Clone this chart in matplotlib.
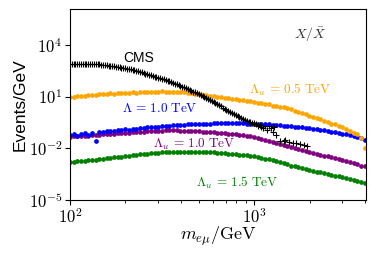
import matplotlib
matplotlib.use("Agg")
import matplotlib.pyplot as plt
from matplotlib.ticker import NullLocator, FuncFormatter
import math

plt.rcParams['mathtext.fontset'] = 'cm'
plt.rcParams['font.family'] = ['Liberation Sans', 'DejaVu Sans']

# bin centres (GeV), log-spaced
mass_bins = [100, 102.3, 104.7, 107.2, 109.6, 112.2, 114.8, 117.5, 120.2, 123.0,
             125.9, 128.8, 131.8, 134.9, 138.0, 141.3, 144.5, 147.9, 151.4, 154.9,
             158.5, 162.2, 166.0, 169.8, 173.8, 177.8, 182.0, 186.2, 190.5, 195.0,
             199.5, 204.2, 208.9, 213.8, 218.8, 223.9, 229.1, 234.4, 239.9, 245.5,
             251.2, 257.0, 263.0, 269.2, 275.4, 281.8, 288.4, 295.1, 302.0, 309.0,
             316.2, 323.6, 331.1, 338.8, 346.7, 354.8, 363.1, 371.5, 380.2, 389.0,
             398.1, 407.4, 416.9, 426.6, 436.5, 446.7, 457.1, 467.7, 478.6, 489.8,
             501.2, 512.9, 524.8, 537.0, 549.5, 562.3, 575.4, 588.8, 602.6, 616.6,
             631.0, 645.7, 660.7, 676.1, 691.8, 707.9, 724.4, 741.3, 758.6, 776.2,
             794.3, 812.8, 831.8, 851.1, 871.0, 891.3, 912.0, 933.3, 955.0, 977.2,
             1000, 1023, 1047, 1072, 1096, 1122, 1148, 1175, 1202, 1230,
             1259, 1288, 1318, 1349, 1380, 1413, 1445, 1479, 1514, 1549,
             1585, 1622, 1660, 1698, 1738, 1778, 1820, 1862, 1905, 1950,
             1995, 2042, 2089, 2138, 2188, 2239, 2291, 2344, 2399, 2455,
             2512, 2570, 2630, 2692, 2754, 2818, 2884, 2951, 3020, 3090,
             3162, 3236, 3311, 3388, 3467, 3548, 3631, 3715, 3802, 3890,
             3981]

# log10(Events/GeV) for the model curves (every second bin)
orange_log = [0.96, 0.98, 1.02, 1.03, 1.04, 1.08, 1.09, 1.10, 1.13, 1.15,
              1.15, 1.18, 1.17, 1.20, 1.19, 1.22, 1.21, 1.24, 1.23, 1.26,
              1.25, 1.28, 1.27, 1.29, 1.28, 1.30, 1.28, 1.29, 1.26, 1.27,
              1.24, 1.25, 1.21, 1.21, 1.17, 1.16, 1.11, 1.10, 1.05, 1.04,
              0.99, 0.98, 0.93, 0.92, 0.87, 0.86, 0.81, 0.80, 0.75, 0.74,
              0.70, 0.64, 0.62, 0.56, 0.54, 0.48, 0.46, 0.40, 0.38, 0.32,
              0.28, 0.19, 0.13, 0.04, -0.02, -0.11, -0.16, -0.26, -0.31, -0.41,
              -0.46, -0.57, -0.62, -0.73, -0.78, -0.91, -0.98, -1.12, -1.19, -1.39,
              -1.98]
blue_log = [-1.25, -1.15, -1.30, -1.20, -1.12, -1.22, -1.10, -1.57, -1.06, -1.04,
            -1.02, -0.98, -1.00, -0.94, -0.95, -0.90, -0.92, -0.87, -0.86, -0.82,
            -0.84, -0.79, -0.78, -0.74, -0.75, -0.71, -0.70, -0.68, -0.67, -0.65,
            -0.66, -0.63, -0.62, -0.61, -0.60, -0.59, -0.58, -0.57, -0.57, -0.56,
            -0.56, -0.55, -0.55, -0.55, -0.54, -0.55, -0.56, -0.56, -0.57, -0.57,
            -0.58, -0.59, -0.60, -0.61, -0.62, -0.64, -0.65, -0.67, -0.68, -0.70,
            -0.72, -0.74, -0.77, -0.79, -0.82, -0.85, -0.87, -0.90, -0.93, -0.96,
            -0.99, -1.03, -1.07, -1.11, -1.15, -1.20, -1.25, -1.30, -1.36, -1.43,
            -1.50]
purple_log = [-1.33, -1.31, -1.30, -1.29, -1.27, -1.27, -1.25, -1.24, -1.22, -1.20,
              -1.19, -1.17, -1.15, -1.13, -1.12, -1.10, -1.09, -1.07, -1.06, -1.04,
              -1.03, -1.02, -1.01, -0.99, -0.98, -0.97, -0.96, -0.96, -0.96, -0.96,
              -0.97, -0.97, -0.98, -0.99, -1.00, -1.01, -1.03, -1.04, -1.06, -1.08,
              -1.09, -1.11, -1.13, -1.15, -1.17, -1.19, -1.22, -1.24, -1.27, -1.30,
              -1.33, -1.38, -1.44, -1.50, -1.56, -1.62, -1.68, -1.74, -1.80, -1.86,
              -1.92, -1.98, -2.04, -2.12, -2.15, -2.20, -2.26, -2.31, -2.37, -2.42,
              -2.47, -2.53, -2.58, -2.63, -2.69, -2.75, -2.81, -2.87, -2.93, -3.00,
              -3.05]
green_log = [-2.78, -2.77, -2.75, -2.74, -2.73, -2.70, -2.69, -2.66, -2.64, -2.61,
             -2.59, -2.56, -2.53, -2.50, -2.48, -2.45, -2.42, -2.39, -2.37, -2.35,
             -2.33, -2.31, -2.29, -2.27, -2.25, -2.24, -2.23, -2.22, -2.21, -2.21,
             -2.20, -2.20, -2.20, -2.20, -2.20, -2.21, -2.21, -2.22, -2.23, -2.24,
             -2.25, -2.27, -2.29, -2.31, -2.33, -2.35, -2.37, -2.39, -2.41, -2.44,
             -2.47, -2.51, -2.55, -2.60, -2.65, -2.70, -2.76, -2.82, -2.88, -2.94,
             -3.00, -3.05, -3.10, -3.15, -3.20, -3.25, -3.30, -3.35, -3.40, -3.44,
             -3.49, -3.53, -3.58, -3.62, -3.67, -3.72, -3.78, -3.83, -3.88, -3.95,
             -4.00]

# CMS data: log10(Events/GeV) on the first 105 bins, then sparse tail
cms_log = [2.88, 2.89, 2.89, 2.89, 2.89, 2.89, 2.89, 2.89, 2.89, 2.89,
           2.89, 2.88, 2.88, 2.88, 2.88, 2.87, 2.87, 2.85, 2.84, 2.82,
           2.81, 2.79, 2.78, 2.76, 2.75, 2.73, 2.71, 2.69, 2.67, 2.65,
           2.63, 2.61, 2.59, 2.57, 2.55, 2.52, 2.49, 2.46, 2.43, 2.40,
           2.37, 2.33, 2.30, 2.26, 2.23, 2.19, 2.16, 2.13, 2.10, 2.07,
           2.04, 2.00, 1.97, 1.93, 1.89, 1.84, 1.80, 1.75, 1.71, 1.66,
           1.62, 1.57, 1.53, 1.48, 1.43, 1.38, 1.34, 1.29, 1.24, 1.18,
           1.13, 1.07, 1.02, 0.96, 0.91, 0.86, 0.81, 0.75, 0.69, 0.62,
           0.56, 0.49, 0.43, 0.36, 0.30, 0.23, 0.17, 0.11, 0.05, -0.01,
           -0.07, -0.13, -0.19, -0.25, -0.30, -0.35, -0.40, -0.45, -0.49, -0.53,
           -0.56, -0.62, -0.70, -0.66, -0.78]
cms_tail_mass = [1122, 1148, 1175, 1202, 1230, 1259, 1288, 1318, 1380, 1445,
                 1479, 1549, 1622, 1698, 1778, 1862, 1950]
cms_tail_log = [-0.85, -0.72, -0.95, -0.70, -0.80, -1.05, -0.75, -1.23, -1.55, -1.60,
                -1.52, -1.66, -1.70, -1.68, -1.76, -1.80, -1.86]

model_mass = mass_bins[::2]
cms_mass = mass_bins[:len(cms_log)] + cms_tail_mass
cms_vals = [10 ** v for v in cms_log + cms_tail_log]

fig = plt.figure(figsize=(3.74, 2.54), dpi=100)
ax = fig.add_axes([0.187, 0.2126, 0.792, 0.752])

ms = 3.4
ax.plot(model_mass, [10 ** v for v in purple_log], 'o', color='purple', ms=ms, mew=0)
ax.plot(model_mass, [10 ** v for v in blue_log], 'o', color='blue', ms=ms, mew=0)
ax.plot(model_mass, [10 ** v for v in green_log], 'o', color='green', ms=ms, mew=0)
ax.plot(model_mass, [10 ** v for v in orange_log], 'o', color='orange', ms=ms, mew=0)
ax.plot(cms_mass, cms_vals, '+', color='black', ms=4.2, mew=0.8)

ax.set_xscale('log')
ax.set_yscale('log')
ax.set_xlim(100, 4060)
ax.set_ylim(1e-5, 1.2e6)
ax.set_yticks([1e-5, 1e-2, 1e1, 1e4])
ax.yaxis.set_minor_locator(NullLocator())
fmt = FuncFormatter(lambda v, p: r'$10^{%d}$' % round(math.log10(v)))
ax.xaxis.set_major_formatter(fmt)
ax.yaxis.set_major_formatter(fmt)
ax.tick_params(labelsize=12, pad=2)

ax.set_xlabel(r'$m_{e\mu}/\mathrm{GeV}$', fontsize=13, labelpad=-1)
ax.set_ylabel('Events/GeV', fontsize=12.5, labelpad=1)

ax.text(237, 10 ** 3.25, 'CMS', fontsize=10, ha='center', va='center', color='black')
ax.text(1570, 10 ** 1.39, r'$\Lambda_u\, =\, 0.5\ \mathrm{TeV}$', fontsize=9.5,
        ha='center', va='center', color='orange')
ax.text(309, 10 ** 0.28, r'$\Lambda\, =\, 1.0\ \mathrm{TeV}$', fontsize=9.5,
        ha='center', va='center', color='blue')
ax.text(472, 10 ** -1.75, r'$\Lambda_u\, =\, 1.0\ \mathrm{TeV}$', fontsize=9.5,
        ha='center', va='center', color='purple')
ax.text(809, 10 ** -4.02, r'$\Lambda_u\, =\, 1.5\ \mathrm{TeV}$', fontsize=9.5,
        ha='center', va='center', color='green')
ax.text(2014, 10 ** 4.59, r'$X/\bar{X}$', fontsize=10, ha='center', va='center',
        color='#333333')

fig.savefig('out.png', dpi=100)
